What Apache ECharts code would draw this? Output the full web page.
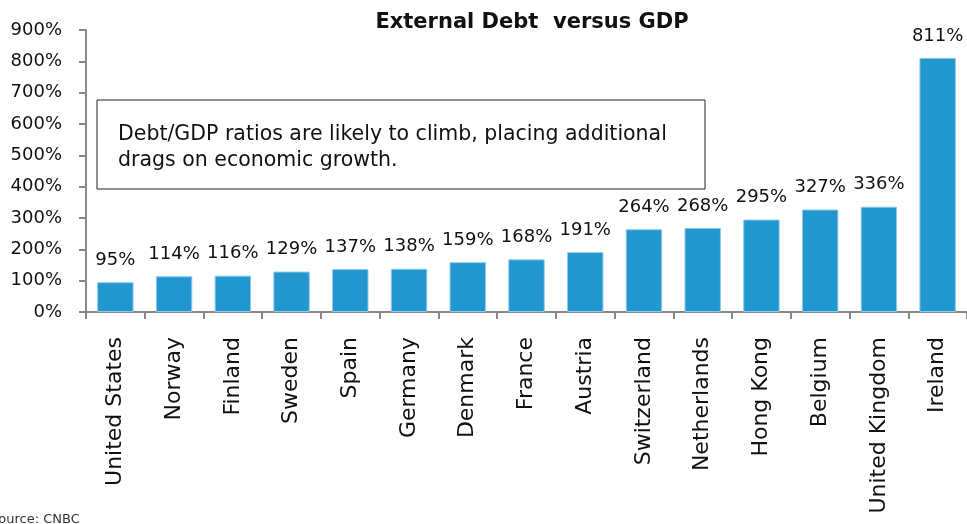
<!DOCTYPE html>
<html>
<head>
<meta charset="utf-8">
<script src="https://cdn.jsdelivr.net/npm/echarts@6/dist/echarts.min.js"></script>
<style>
html,body{margin:0;padding:0;background:#fff;}
#chart{width:967px;height:524px;}
</style>
</head>
<body>
<div id="chart"></div>
<script>
const categories = ["United States","Norway","Finland","Sweden","Spain","Germany","Denmark","France","Austria","Switzerland","Netherlands","Hong Kong","Belgium","United Kingdom","Ireland"];
const debtToGdp = [95,114,116,129,137,138,159,168,191,264,268,295,327,336,811];
const yTicks = {min:0, max:900, interval:100};
const titleText = "External Debt  versus GDP";
const noteLines = ["Debt/GDP ratios are likely to climb, placing additional", "drags on economic growth."];
const sourceText = "Source: CNBC";

const FONT = "DejaVu Sans";
const chart = echarts.init(document.getElementById('chart'));
chart.setOption({
  animation:false,
  backgroundColor:'#fff',
  title:{text:titleText,left:527,textAlign:'center',top:7,
    textStyle:{fontFamily:FONT,fontWeight:'bold',fontSize:21,color:'#111'}},
  grid:{left:86,right:-7,top:30,bottom:212,containLabel:false},
  xAxis:{type:'category',data:categories,
    axisLine:{lineStyle:{color:'#888',width:2}},
    axisTick:{show:true,length:7,lineStyle:{color:'#888',width:2}},
    axisLabel:{rotate:90,interval:0,margin:25,fontFamily:FONT,fontSize:22,color:'#111'}},
  yAxis:{type:'value',min:yTicks.min,max:yTicks.max,interval:yTicks.interval,
    axisLine:{show:true,lineStyle:{color:'#888',width:2}},
    axisTick:{show:true,length:7,lineStyle:{color:'#888',width:2}},
    splitLine:{show:false},
    axisLabel:{formatter:'{value}%',margin:24,fontFamily:FONT,fontSize:18,color:'#111'}},
  series:[{type:'bar',data:debtToGdp,barCategoryGap:'38%',
    itemStyle:{color:'#2196CF',borderColor:'#8fc8ea',borderWidth:1},
    label:{show:true,position:'top',distance:13,formatter:'{c}%',fontFamily:FONT,fontSize:18,color:'#111'}}],
  graphic:[
    {type:'rect',shape:{x:97,y:100,width:608,height:89},style:{fill:'#fff',stroke:'#222',lineWidth:1},z:10},
    {type:'text',left:118,top:122,z:11,style:{text:noteLines.join('\n'),fontFamily:FONT,fontSize:20.5,lineHeight:26,fill:'#111'}},
    {type:'text',left:-10,top:513,z:11,style:{text:sourceText,fontFamily:FONT,fontSize:13,fill:'#333'}}
  ]
});
</script>
</body>
</html>
